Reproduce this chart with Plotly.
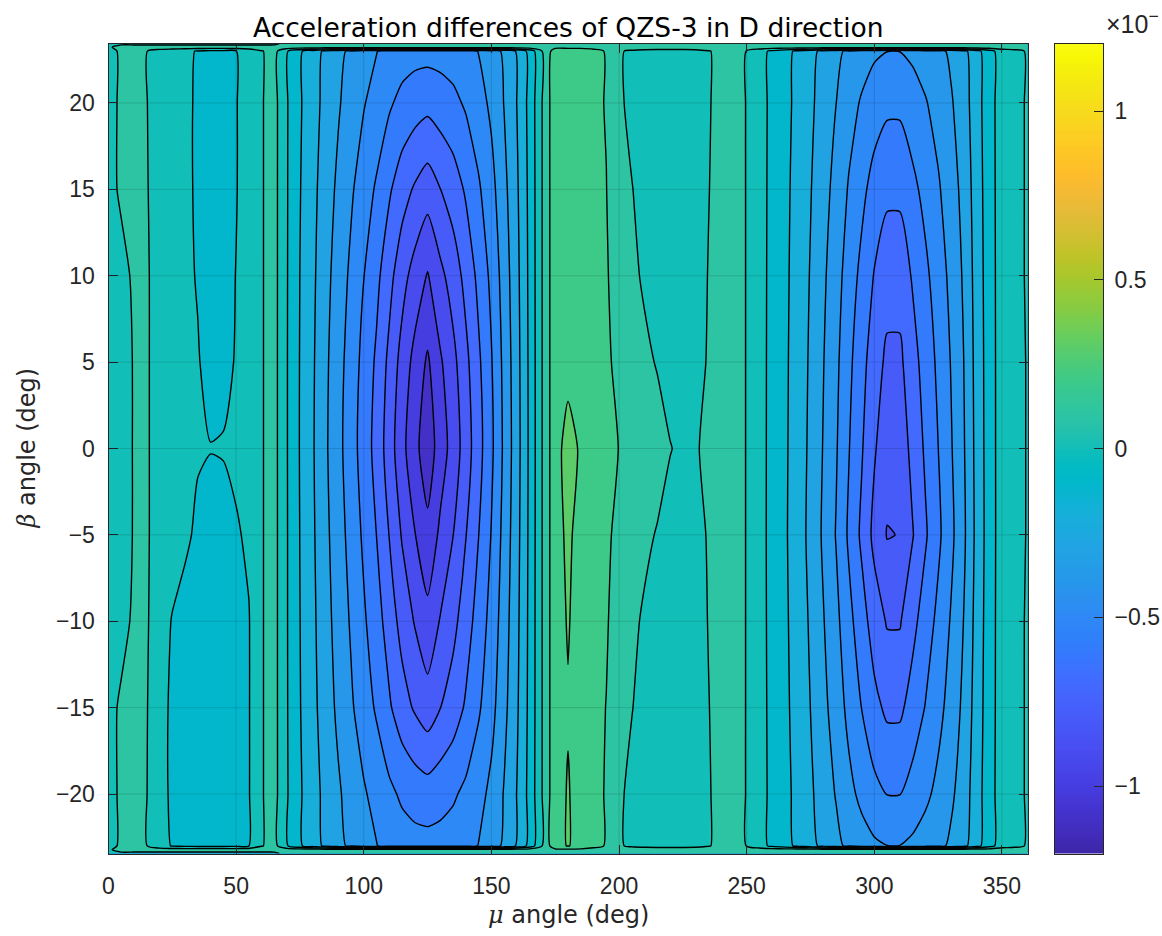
import numpy as np
import plotly.graph_objects as go

# ---- data (acceleration difference, units of 1e-7) ----
MU_DEG = list(range(0, 361, 5))
BETA_DEG = [-23.44, -23.22, -23.0, -20, -15, -10, -5, 0, 5, 10, 15, 20, 23.0, 23.22, 23.44]

ROW_EDGE = [-0.03, -0.03, -0.03, -0.03, -0.03, -0.03, -0.03, -0.03, -0.03, -0.03, -0.03, -0.03, -0.03, -0.03,
            0.05, 0.05, 0.05, 0.05, 0.05, 0.05, 0.05, 0.05, 0.05, 0.05, 0.05, 0.05, 0.05, 0.05, 0.05, 0.05, 0.05, 0.05, 0.05, 0.05,
            0.05, 0.05, 0.05, 0.05, 0.05, 0.05, 0.05, 0.05, 0.05, 0.05, 0.05, 0.05, 0.05, 0.05, 0.05, 0.05, 0.05,
            0.05, 0.05, 0.05, 0.05, 0.05, 0.05, 0.05, 0.05, 0.05, 0.05, 0.05, 0.05, 0.05, 0.05, 0.05, 0.05, 0.05, 0.05, 0.05, 0.05,
            0.05, 0.05]
ROW_RIM = [-0.02, 0.05, 0.05, 0.05, 0.05, 0.05, 0.05, 0.05, 0.05, 0.05, 0.05, 0.05, 0.05, 0.05,
           0.05, 0.05, 0.05, 0.05, 0.05, 0.05, 0.05, 0.05, 0.05, 0.05, 0.05, 0.05, 0.05, 0.05, 0.05, 0.05, 0.05, 0.05, 0.05, 0.05,
           0.05, 0.08, 0.08, 0.08, 0.08, 0.05, 0.05, 0.05, 0.05, 0.05, 0.05, 0.05, 0.05, 0.05, 0.05, 0.05, 0.05,
           0.05, 0.05, 0.05, 0.05, 0.05, 0.05, 0.05, 0.05, 0.05, 0.05, 0.05, 0.05, 0.05, 0.05, 0.05, 0.05, 0.05, 0.05, 0.05, 0.05,
           0.05, 0.05]
ROW_M23 = [-0.02, 0.01, 0.02, 0.002, -0.07, -0.105, -0.12, -0.125, -0.125, -0.125, -0.12, -0.1, -0.005, 0.03,
           -0.094, -0.187, -0.253, -0.32, -0.373, -0.42, -0.462, -0.497, -0.532, -0.556, -0.567, -0.568, -0.565, -0.555, -0.532, -0.497, -0.451, -0.379, -0.289, -0.166,
           0.005, 0.17, 0.205, 0.17, 0.12, 0.095, 0.01, -0.015, -0.03, -0.035, -0.035, -0.035, -0.03, -0.005, 0.02, 0.02, -0.002,
           -0.063, -0.122, -0.168, -0.22, -0.27, -0.325, -0.373, -0.422, -0.458, -0.485, -0.499, -0.499, -0.481, -0.456, -0.424, -0.383, -0.328, -0.234, -0.139, -0.049,
           -0.03, 0.01]
ROW_M20 = [-0.02, 0.01, 0.02, 0.002, -0.08, -0.11, -0.125, -0.135, -0.14, -0.14, -0.13, -0.105, -0.005, 0.03,
           -0.094, -0.189, -0.258, -0.329, -0.387, -0.439, -0.489, -0.532, -0.578, -0.616, -0.64, -0.654, -0.636, -0.613, -0.578, -0.532, -0.476, -0.393, -0.297, -0.168,
           0.005, 0.17, 0.205, 0.17, 0.12, 0.095, 0.01, -0.015, -0.03, -0.035, -0.035, -0.035, -0.03, -0.005, 0.02, 0.02, -0.002,
           -0.064, -0.124, -0.173, -0.228, -0.284, -0.348, -0.406, -0.472, -0.524, -0.572, -0.602, -0.602, -0.563, -0.521, -0.474, -0.419, -0.351, -0.245, -0.142, -0.049,
           -0.03, 0.01]
ROW_M15 = [-0.02, 0.01, 0.02, 0.005, -0.08, -0.11, -0.125, -0.135, -0.14, -0.14, -0.13, -0.105, -0.005, 0.03,
           -0.096, -0.196, -0.271, -0.352, -0.42, -0.486, -0.551, -0.613, -0.687, -0.758, -0.812, -0.856, -0.801, -0.752, -0.687, -0.613, -0.533, -0.428, -0.314, -0.173,
           0.005, 0.17, 0.195, 0.17, 0.13, 0.098, 0.03, 0.002, -0.02, -0.03, -0.035, -0.035, -0.028, -0.002, 0.022, 0.02, -0.002,
           -0.064, -0.127, -0.179, -0.238, -0.301, -0.374, -0.445, -0.528, -0.601, -0.672, -0.72, -0.72, -0.658, -0.596, -0.532, -0.461, -0.378, -0.256, -0.146, -0.05,
           -0.03, 0.01]
ROW_M10 = [-0.04, -0.02, 0.01, 0.01, -0.06, -0.105, -0.12, -0.135, -0.14, -0.14, -0.125, -0.105, -0.005, 0.03,
           -0.097, -0.199, -0.278, -0.364, -0.439, -0.511, -0.586, -0.658, -0.747, -0.836, -0.907, -0.969, -0.893, -0.829, -0.747, -0.658, -0.565, -0.447, -0.324, -0.175,
           0.005, 0.17, 0.205, 0.17, 0.14, 0.11, 0.05, 0.015, -0.01, -0.025, -0.03, -0.03, -0.025, 0.002, 0.025, 0.02, -0.002,
           -0.065, -0.129, -0.183, -0.246, -0.313, -0.394, -0.473, -0.57, -0.657, -0.747, -0.808, -0.808, -0.729, -0.652, -0.575, -0.492, -0.398, -0.265, -0.148, -0.05,
           -0.03, 0.01]
ROW_M05 = [-0.05, -0.04, 0.006, 0.01, -0.04, -0.06, -0.09, -0.11, -0.13, -0.13, -0.11, -0.085, -0.005, 0.03,
           -0.097, -0.202, -0.285, -0.375, -0.456, -0.535, -0.618, -0.701, -0.803, -0.909, -0.996, -1.073, -0.979, -0.901, -0.803, -0.701, -0.595, -0.465, -0.333, -0.178,
           0.005, 0.17, 0.215, 0.17, 0.15, 0.12, 0.07, 0.04, 0.015, -0.005, -0.02, -0.025, -0.02, 0.005, 0.025, 0.02, -0.002,
           -0.065, -0.131, -0.187, -0.254, -0.326, -0.415, -0.505, -0.616, -0.719, -0.828, -0.905, -0.897, -0.806, -0.713, -0.622, -0.526, -0.42, -0.274, -0.151, -0.05,
           -0.03, 0.005]
ROW_000 = [-0.05, -0.04, 0.006, 0.01, -0.04, -0.06, -0.08, -0.095, -0.098, -0.095, -0.08, -0.04, -0.005, 0.03,
           -0.098, -0.205, -0.29, -0.385, -0.47, -0.555, -0.645, -0.735, -0.85, -0.97, -1.07, -1.16, -1.05, -0.96, -0.85, -0.735, -0.62, -0.48, -0.34, -0.18,
           0.005, 0.17, 0.23, 0.19, 0.16, 0.13, 0.098, 0.08, 0.05, 0.03, 0.002, -0.01, -0.008, 0.02, 0.03, 0.02, -0.002,
           -0.065, -0.13, -0.185, -0.25, -0.32, -0.405, -0.49, -0.595, -0.69, -0.79, -0.86, -0.86, -0.77, -0.685, -0.601, -0.51, -0.41, -0.27, -0.15, -0.05,
           -0.03, 0.005]
ROW_P05 = [-0.05, -0.04, 0.006, 0.01, -0.04, -0.06, -0.085, -0.095, -0.125, -0.12, -0.095, -0.045, -0.005, 0.03,
           -0.098, -0.204, -0.287, -0.38, -0.463, -0.545, -0.631, -0.717, -0.826, -0.938, -1.032, -1.115, -1.013, -0.929, -0.826, -0.717, -0.607, -0.472, -0.336, -0.179,
           0.005, 0.17, 0.175, 0.17, 0.15, 0.12, 0.07, 0.04, 0.015, -0.005, -0.02, -0.025, -0.02, 0.005, 0.025, 0.02, -0.002,
           -0.065, -0.129, -0.183, -0.247, -0.314, -0.396, -0.477, -0.576, -0.664, -0.756, -0.82, -0.82, -0.738, -0.659, -0.58, -0.496, -0.401, -0.266, -0.149, -0.05,
           -0.03, 0.005]
ROW_P10 = [-0.04, -0.02, 0.01, 0.01, -0.04, -0.06, -0.085, -0.105, -0.135, -0.13, -0.098, -0.05, -0.005, 0.03,
           -0.097, -0.201, -0.28, -0.368, -0.445, -0.52, -0.598, -0.674, -0.768, -0.863, -0.94, -1.007, -0.925, -0.855, -0.768, -0.674, -0.576, -0.454, -0.327, -0.176,
           0.005, 0.17, 0.17, 0.17, 0.14, 0.11, 0.05, 0.015, -0.01, -0.025, -0.03, -0.03, -0.025, 0.002, 0.025, 0.02, -0.002,
           -0.064, -0.128, -0.18, -0.242, -0.306, -0.383, -0.458, -0.547, -0.626, -0.706, -0.76, -0.76, -0.69, -0.622, -0.551, -0.475, -0.387, -0.26, -0.147, -0.05,
           -0.03, 0.01]
ROW_P15 = [-0.02, 0.01, 0.02, 0.005, -0.04, -0.06, -0.085, -0.11, -0.14, -0.135, -0.104, -0.06, -0.005, 0.03,
           -0.096, -0.196, -0.271, -0.352, -0.42, -0.486, -0.551, -0.613, -0.687, -0.758, -0.812, -0.856, -0.801, -0.752, -0.687, -0.613, -0.533, -0.428, -0.314, -0.173,
           0.005, 0.17, 0.165, 0.17, 0.13, 0.102, 0.03, 0.002, -0.02, -0.03, -0.035, -0.035, -0.028, -0.002, 0.022, 0.02, -0.002,
           -0.064, -0.126, -0.177, -0.235, -0.295, -0.365, -0.431, -0.509, -0.574, -0.638, -0.679, -0.679, -0.625, -0.57, -0.512, -0.447, -0.369, -0.252, -0.145, -0.049,
           -0.03, 0.01]
ROW_P20 = [-0.02, 0.01, 0.02, 0.002, -0.04, -0.06, -0.085, -0.11, -0.14, -0.135, -0.104, -0.06, -0.005, 0.03,
           -0.095, -0.19, -0.259, -0.331, -0.39, -0.443, -0.494, -0.538, -0.587, -0.628, -0.654, -0.671, -0.649, -0.625, -0.587, -0.538, -0.48, -0.396, -0.298, -0.168,
           0.005, 0.17, 0.165, 0.17, 0.12, 0.095, 0.01, -0.015, -0.03, -0.035, -0.035, -0.035, -0.03, -0.005, 0.02, 0.02, -0.002,
           -0.063, -0.124, -0.172, -0.226, -0.281, -0.343, -0.399, -0.461, -0.51, -0.553, -0.58, -0.58, -0.545, -0.507, -0.464, -0.411, -0.346, -0.242, -0.142, -0.049,
           -0.03, 0.01]
ROW_P23 = [-0.02, 0.01, 0.02, 0.002, -0.04, -0.06, -0.085, -0.105, -0.12, -0.12, -0.102, -0.06, -0.005, 0.03,
           -0.094, -0.187, -0.253, -0.32, -0.373, -0.42, -0.462, -0.497, -0.532, -0.556, -0.567, -0.568, -0.565, -0.555, -0.532, -0.497, -0.451, -0.379, -0.289, -0.166,
           0.005, 0.15, 0.15, 0.15, 0.12, 0.095, 0.01, -0.015, -0.03, -0.035, -0.035, -0.035, -0.03, -0.005, 0.02, 0.02, -0.002,
           -0.063, -0.122, -0.168, -0.22, -0.27, -0.325, -0.373, -0.422, -0.458, -0.485, -0.499, -0.499, -0.481, -0.456, -0.424, -0.383, -0.328, -0.234, -0.139, -0.049,
           -0.03, 0.01]

ACC_D = [ROW_EDGE, ROW_RIM, ROW_M23, ROW_M20, ROW_M15, ROW_M10, ROW_M05, ROW_000,
         ROW_P05, ROW_P10, ROW_P15, ROW_P20, ROW_P23, ROW_RIM, ROW_EDGE]

LEVEL_START, LEVEL_END, LEVEL_STEP = -1.1, 0.2, 0.1
CLIM = (-1.2, 1.2)

X_TICKS = [0, 50, 100, 150, 200, 250, 300, 350]
Y_TICKS = [-20, -15, -10, -5, 0, 5, 10, 15, 20]
Y_LABELS = ["\u221220", "\u221215", "\u221210", "\u22125", "0", "5", "10", "15", "20"]
CB_TICKS = [-1, -0.5, 0, 0.5, 1]
CB_LABELS = ["\u22121", "\u22120.5", "0", "0.5", "1"]

# ---- parula colormap ----
PARULA = [
    (0.2422, 0.1504, 0.6603), (0.2504, 0.1650, 0.7076), (0.2578, 0.1818, 0.7511), (0.2647, 0.1978, 0.7952),
    (0.2706, 0.2147, 0.8364), (0.2751, 0.2342, 0.8710), (0.2783, 0.2559, 0.8991), (0.2803, 0.2782, 0.9221),
    (0.2813, 0.3006, 0.9414), (0.2810, 0.3228, 0.9579), (0.2795, 0.3447, 0.9717), (0.2760, 0.3667, 0.9829),
    (0.2699, 0.3892, 0.9906), (0.2602, 0.4123, 0.9952), (0.2440, 0.4358, 0.9988), (0.2206, 0.4603, 0.9973),
    (0.1963, 0.4847, 0.9892), (0.1834, 0.5074, 0.9798), (0.1786, 0.5289, 0.9682), (0.1764, 0.5499, 0.9520),
    (0.1687, 0.5703, 0.9359), (0.1540, 0.5902, 0.9218), (0.1460, 0.6091, 0.9079), (0.1380, 0.6276, 0.8973),
    (0.1248, 0.6459, 0.8883), (0.1113, 0.6635, 0.8763), (0.0952, 0.6798, 0.8598), (0.0689, 0.6948, 0.8394),
    (0.0297, 0.7082, 0.8163), (0.0036, 0.7199, 0.7913), (0.0067, 0.7303, 0.7647), (0.0433, 0.7400, 0.7364),
    (0.0964, 0.7500, 0.7065), (0.1408, 0.7584, 0.6751), (0.1717, 0.7670, 0.6417), (0.1938, 0.7758, 0.6059),
    (0.2161, 0.7843, 0.5668), (0.2470, 0.7918, 0.5242), (0.2906, 0.7973, 0.4783), (0.3406, 0.8008, 0.4297),
    (0.3909, 0.8029, 0.3792), (0.4456, 0.8024, 0.3283), (0.5044, 0.7993, 0.2802), (0.5616, 0.7942, 0.2385),
    (0.6174, 0.7876, 0.2012), (0.6720, 0.7793, 0.1713), (0.7242, 0.7698, 0.1543), (0.7738, 0.7598, 0.1643),
    (0.8203, 0.7498, 0.1855), (0.8634, 0.7406, 0.2051), (0.9035, 0.7330, 0.2154), (0.9393, 0.7288, 0.2100),
    (0.9728, 0.7298, 0.1919), (0.9956, 0.7434, 0.1624), (0.9970, 0.7659, 0.1520), (0.9952, 0.7893, 0.1419),
    (0.9856, 0.8136, 0.1307), (0.9739, 0.8386, 0.1176), (0.9636, 0.8639, 0.1057), (0.9617, 0.8893, 0.0880),
    (0.9626, 0.9152, 0.0666), (0.9654, 0.9409, 0.0423), (0.9727, 0.9668, 0.0217), (0.9769, 0.9839, 0.0805),
]


def parula(t):
    t = min(max(t, 0.0), 1.0)
    pos = t * (len(PARULA) - 1)
    i = min(int(np.floor(pos)), len(PARULA) - 2)
    f = pos - i
    c = [(1 - f) * a + f * b for a, b in zip(PARULA[i], PARULA[i + 1])]
    return "rgb(%d,%d,%d)" % tuple(int(round(255 * v)) for v in c)


def clim_frac(v):
    return (v - CLIM[0]) / (CLIM[1] - CLIM[0])


# Each filled band takes the colour of the level that bounds it from above.
n_levels = int(round((LEVEL_END - LEVEL_START) / LEVEL_STEP)) + 1
band_scale = []
for k in range(0, n_levels + 1):
    upper = LEVEL_START + LEVEL_STEP * k
    band_scale.append([k / n_levels, parula(clim_frac(upper))])

bar_scale = [[i / 63, parula(i / 63)] for i in range(64)]

# ---- page geometry (pixels) ----
W, H = 1162, 936
AX_L, AX_R, AX_T, AX_B = 108.5, 1027.5, 43.5, 853.5
CB_L, CB_R = 1054.5, 1103.0

xd = [AX_L / W, AX_R / W]
yd = [1 - AX_B / H, 1 - AX_T / H]
cbd = [CB_L / W, CB_R / W]

TEXT = "#262626"
TICK_FONT = "Liberation Sans, Arial, sans-serif"
LABEL_FONT = "DejaVu Sans, sans-serif"
SYM = "<span style='font-family:DejaVu Serif;font-style:italic'>%s</span>"

fig = go.Figure()

fig.add_trace(go.Contour(
    x=MU_DEG, y=BETA_DEG, z=ACC_D,
    autocontour=False,
    contours=dict(start=LEVEL_START, end=LEVEL_END, size=LEVEL_STEP, coloring="fill"),
    colorscale=band_scale,
    line=dict(color="black", width=1.4, smoothing=0.6),
    showscale=False, hoverinfo="skip",
    xaxis="x", yaxis="y",
))

# colour bar drawn as a thin gradient image
cb_vals = np.linspace(CLIM[0], CLIM[1], 241)
fig.add_trace(go.Heatmap(
    x=[0, 1], y=cb_vals, z=[[v, v] for v in cb_vals],
    colorscale=bar_scale, zmin=CLIM[0], zmax=CLIM[1],
    showscale=False, hoverinfo="skip",
    xaxis="x2", yaxis="y2",
))

# grid drawn over the filled contours
grid = []
for xv in X_TICKS[1:]:
    grid.append(dict(type="line", xref="x", yref="paper", x0=xv, x1=xv, y0=yd[0], y1=yd[1],
                     line=dict(color="rgba(0,0,0,0.13)", width=1), layer="above"))
for yv in Y_TICKS:
    grid.append(dict(type="line", xref="paper", yref="y", x0=xd[0], x1=xd[1], y0=yv, y1=yv,
                     line=dict(color="rgba(0,0,0,0.13)", width=1), layer="above"))

axis_common = dict(
    ticks="inside", ticklen=9, tickwidth=1, tickcolor=TEXT,
    showline=True, linecolor=TEXT, linewidth=1, mirror="allticks",
    showgrid=False, zeroline=False,
    tickfont=dict(family=TICK_FONT, size=23, color=TEXT),
)

fig.update_layout(
    width=W, height=H,
    margin=dict(l=0, r=0, t=0, b=0),
    paper_bgcolor="white", plot_bgcolor="white",
    showlegend=False,
    shapes=grid,
    xaxis=dict(domain=xd, range=[0, 360], tickvals=X_TICKS, ticktext=[str(v) for v in X_TICKS],
               anchor="y", ticklabelstandoff=12, automargin=False, **axis_common),
    yaxis=dict(domain=yd, range=[-23.44, 23.44], tickvals=Y_TICKS, ticktext=Y_LABELS,
               anchor="x", ticklabelstandoff=8, automargin=False, **axis_common),
    xaxis2=dict(domain=cbd, range=[0, 1], showticklabels=False, ticks="", showline=True,
                linecolor=TEXT, mirror=True, showgrid=False, zeroline=False, anchor="y2",
                fixedrange=True, automargin=False),
    yaxis2=dict(domain=yd, range=[CLIM[0], CLIM[1]], side="right", anchor="x2",
                tickvals=CB_TICKS, ticktext=CB_LABELS, ticks="inside", ticklen=9,
                tickcolor=TEXT, showline=True, linecolor=TEXT, mirror=True,
                showgrid=False, zeroline=False, ticklabelstandoff=6, automargin=False,
                tickfont=dict(family=TICK_FONT, size=23, color=TEXT)),
    annotations=[
        dict(text="Acceleration differences of QZS-3 in D direction", x=(AX_L + AX_R) / 2 / W,
             y=1 - 27 / H, xref="paper", yref="paper", xanchor="center", yanchor="middle",
             showarrow=False, font=dict(family=LABEL_FONT, size=26.5, color="black")),
        dict(text=(SYM % "\u03bc") + " angle (deg)",
             x=(AX_L + AX_R) / 2 / W, y=1 - 915 / H, xref="paper", yref="paper",
             xanchor="center", yanchor="middle", showarrow=False,
             font=dict(family=LABEL_FONT, size=24, color=TEXT)),
        dict(text=(SYM % "\u03b2") + " angle (deg)",
             x=26 / W, y=1 - (AX_T + AX_B) / 2 / H, xref="paper", yref="paper",
             xanchor="center", yanchor="middle", textangle=-90, showarrow=False,
             font=dict(family=LABEL_FONT, size=24, color=TEXT)),
        dict(text="\u00d710<sup>\u2212</sup>", x=1161 / W, y=1 - 22 / H, xref="paper", yref="paper",
             xanchor="right", yanchor="middle", showarrow=False,
             font=dict(family=TICK_FONT, size=25, color=TEXT)),
    ],
)

fig.write_html("out.html")
